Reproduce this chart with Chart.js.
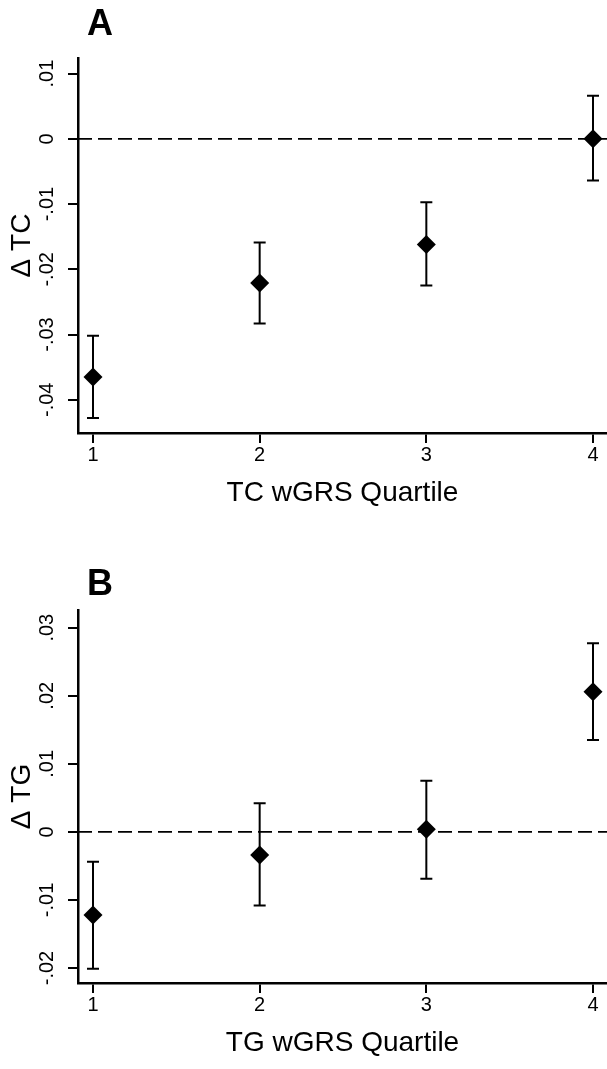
<!DOCTYPE html>
<html>
<head>
<meta charset="utf-8">
<script src="https://cdn.jsdelivr.net/npm/chart.js@4.4.0/dist/chart.umd.min.js"></script>
<style>
  html, body { margin: 0; padding: 0; background: #fff; }
  #wrap { position: relative; width: 607px; height: 1069px; }
  .panel { position: absolute; left: 0; width: 607px; }
</style>
</head>
<body>
<div id="wrap">
  <div class="panel" style="top:0;height:535px"><canvas id="chartA" width="607" height="535"></canvas></div>
  <div class="panel" style="top:535px;height:534px"><canvas id="chartB" width="607" height="534"></canvas></div>
</div>
<script>
// quartile positions on the x axis
const quartiles = [1, 2, 3, 4];

// panel A: change in TC by TC wGRS quartile
const tcEst = [-0.0365, -0.0221, -0.0162, 0.0000];
const tcLo  = [-0.0428, -0.0283, -0.0225, -0.0064];
const tcHi  = [-0.0302, -0.0159, -0.0097, 0.0066];
const tcTicks = [-0.04, -0.03, -0.02, -0.01, 0, 0.01];
const tcTickLabels = ['-.04', '-.03', '-.02', '-.01', '0', '.01'];

// panel B: change in TG by TG wGRS quartile
const tgEst = [-0.0122, -0.0034, 0.0004, 0.0206];
const tgLo  = [-0.0201, -0.0108, -0.0069, 0.0135];
const tgHi  = [-0.0044, 0.0042, 0.0075, 0.0277];
const tgTicks = [-0.02, -0.01, 0, 0.01, 0.02, 0.03];
const tgTickLabels = ['-.02', '-.01', '0', '.01', '.02', '.03'];

const FONT = '"Liberation Sans", Arial, Helvetica, sans-serif';
const X_MIN = 0.91, X_MAX = 4.084;

// whiskers with caps, drawn under the diamonds
const errorBars = {
  id: 'errorBars',
  beforeDatasetsDraw(chart, args, opts) {
    const {ctx} = chart;
    const x = chart.scales.x, y = chart.scales.y;
    ctx.save();
    ctx.strokeStyle = '#000';
    ctx.lineWidth = 2;
    opts.lo.forEach((lo, i) => {
      const px = x.getPixelForValue(quartiles[i]);
      const yl = y.getPixelForValue(lo);
      const yh = y.getPixelForValue(opts.hi[i]);
      ctx.beginPath();
      ctx.moveTo(px, yl); ctx.lineTo(px, yh);
      ctx.moveTo(px - 6, yl); ctx.lineTo(px + 6, yl);
      ctx.moveTo(px - 6, yh); ctx.lineTo(px + 6, yh);
      ctx.stroke();
    });
    ctx.restore();
  }
};

// rotated y tick labels (stata style) and the panel letter
const panelText = {
  id: 'panelText',
  afterDraw(chart, args, opts) {
    const {ctx} = chart;
    const y = chart.scales.y;
    ctx.save();
    ctx.fillStyle = '#000';
    ctx.font = '20px ' + FONT;
    ctx.textAlign = 'center';
    ctx.textBaseline = 'alphabetic';
    opts.values.forEach((v, i) => {
      ctx.save();
      ctx.translate(53, y.getPixelForValue(v));
      ctx.rotate(-Math.PI / 2);
      ctx.fillText(opts.labels[i], 0, 0);
      ctx.restore();
    });
    ctx.font = 'bold 36px ' + FONT;
    ctx.textBaseline = 'middle';
    ctx.fillText(opts.letter, 100, opts.letterY);
    ctx.restore();
  }
};

function makePanel(id, cfg) {
  return new Chart(document.getElementById(id), {
    type: 'scatter',
    data: {
      datasets: [
        {
          type: 'line',
          data: [{x: X_MIN, y: 0}, {x: X_MAX, y: 0}],
          borderColor: '#000',
          borderWidth: 1.8,
          borderDash: [14, 6],
          pointRadius: 0
        },
        {
          data: quartiles.map((q, i) => ({x: q, y: cfg.est[i]})),
          pointStyle: 'rectRot',
          pointRadius: 9.5,
          backgroundColor: '#000',
          borderColor: '#000',
          borderWidth: 0
        }
      ]
    },
    plugins: [errorBars, panelText],
    options: {
      responsive: false,
      animation: false,
      events: [],
      layout: { autoPadding: false, padding: { top: cfg.padTop, left: 0, right: 0, bottom: 0 } },
      plugins: {
        legend: { display: false },
        tooltip: { enabled: false },
        errorBars: { lo: cfg.lo, hi: cfg.hi },
        panelText: { values: cfg.ticks, labels: cfg.tickLabels, letter: cfg.letter, letterY: cfg.letterY }
      },
      scales: {
        x: {
          type: 'linear',
          min: X_MIN,
          max: X_MAX,
          afterBuildTicks: s => { s.ticks = quartiles.map(v => ({value: v})); },
          afterFit: s => { s.height = cfg.xAxisH; s.paddingLeft = 0; s.paddingRight = 0; },
          ticks: { color: '#000', font: { family: FONT, size: 20 }, padding: 0, maxRotation: 0 },
          grid: { drawOnChartArea: false, drawTicks: true, tickLength: 10, color: '#000', lineWidth: 2 },
          border: { display: true, color: '#000', width: 2.5 },
          title: {
            display: true,
            text: cfg.xTitle,
            color: '#000',
            font: { family: FONT, size: 28 },
            padding: { top: 0, bottom: cfg.xTitlePad }
          }
        },
        y: {
          type: 'linear',
          min: cfg.yMin,
          max: cfg.yMax,
          afterBuildTicks: s => { s.ticks = cfg.ticks.map(v => ({value: v})); },
          afterFit: s => { s.width = 78; s.paddingTop = 0; s.paddingBottom = 0; },
          ticks: { display: false },
          grid: { drawOnChartArea: false, drawTicks: true, tickLength: 10, color: '#000', lineWidth: 2 },
          border: { display: true, color: '#000', width: 2.5 },
          title: {
            display: true,
            text: cfg.yTitle,
            color: '#000',
            font: { family: FONT, size: 28 },
            padding: { top: 5, bottom: 0 }
          }
        }
      }
    }
  });
}

makePanel('chartA', {
  est: tcEst, lo: tcLo, hi: tcHi,
  ticks: tcTicks, tickLabels: tcTickLabels,
  yMin: -0.0451, yMax: 0.0124,
  padTop: 58, xAxisH: 102, xTitlePad: 25,
  letter: 'A', letterY: 25,
  xTitle: 'TC wGRS Quartile', yTitle: '\u0394 TC'
});

makePanel('chartB', {
  est: tgEst, lo: tgLo, hi: tgHi,
  ticks: tgTicks, tickLabels: tgTickLabels,
  yMin: -0.0222, yMax: 0.0326,
  padTop: 75, xAxisH: 86, xTitlePad: 9,
  letter: 'B', letterY: 50,
  xTitle: 'TG wGRS Quartile', yTitle: '\u0394 TG'
});
</script>
</body>
</html>
